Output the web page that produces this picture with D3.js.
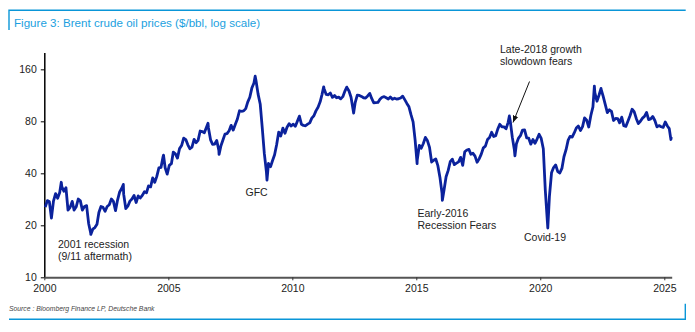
<!DOCTYPE html>
<html>
<head>
<meta charset="utf-8">
<script src="https://cdn.jsdelivr.net/npm/d3@7"></script>
<style>
  body { margin: 0; background: #fff; }
  svg { display: block; font-family: "Liberation Sans", Arial, sans-serif; }
</style>
</head>
<body>
<script>
// Brent, $/bbl, one value per month from Jan 2000
var startYear = 2000;
var brentMonthly = [
  25.5, 27.8, 27.5, 22.0, 27.6, 30.5, 28.7, 31.0, 33.5, 31.5, 33.0, 24.5,
  25.4, 27.5, 24.5, 25.6, 28.4, 27.7, 24.5, 25.7, 26.0, 20.5, 18.0, 19.0,
  19.4, 20.3, 23.7, 25.7, 25.4, 24.1, 25.7, 26.3, 28.4, 27.5, 24.3, 28.0,
  31.2, 32.8, 30.3, 25.0, 25.8, 27.6, 28.4, 29.8, 27.1, 29.6, 28.8, 29.8,
  31.3, 30.9, 33.8, 33.4, 37.6, 35.5, 38.4, 43.0, 43.3, 49.8, 43.1, 39.6,
  44.5, 45.5, 53.1, 51.9, 49.0, 55.6, 57.9, 64.0, 62.7, 58.5, 55.5, 56.7,
  62.9, 60.2, 62.1, 70.3, 69.8, 68.7, 73.7, 73.2, 62.5, 58.9, 59.1, 62.0,
  54.3, 57.8, 62.1, 67.5, 67.9, 70.6, 75.8, 71.2, 77.0, 82.5, 92.1, 91.5,
  92.0, 94.8, 103.3, 110.2, 124.6, 133.5, 138.0, 115.0, 100.8, 73.6, 52.0, 41.0,
  45.6, 43.7, 47.3, 51.2, 58.6, 69.3, 65.8, 73.1, 68.2, 73.9, 77.5, 75.2,
  77.0, 74.8, 79.9, 85.7, 77.0, 75.7, 75.4, 77.1, 78.4, 83.5, 86.1, 92.0,
  96.5, 103.7, 114.6, 123.3, 114.5, 113.9, 116.7, 110.2, 112.8, 109.5, 110.5, 107.9,
  111.2, 119.7, 125.5, 119.8, 110.3, 93.0, 102.6, 113.4, 113.0, 111.5, 109.5, 109.2,
  112.3, 116.1, 108.5, 102.3, 102.6, 102.9, 107.4, 110.3, 111.2, 109.5, 107.8, 110.6,
  107.4, 108.8, 107.7, 108.1, 109.2, 111.9, 106.8, 101.6, 97.1, 87.4, 79.4, 62.3,
  47.8, 58.1, 55.9, 59.5, 64.6, 61.7, 56.5, 46.5, 47.6, 48.4, 44.3, 38.0,
  30.7, 32.2, 38.2, 41.6, 46.7, 48.3, 44.9, 45.8, 46.6, 49.5, 44.5, 53.3,
  54.6, 55.0, 51.6, 52.3, 50.3, 46.4, 48.5, 51.7, 56.2, 57.5, 62.7, 64.4,
  69.1, 65.3, 66.0, 72.1, 76.9, 74.4, 74.3, 72.5, 78.9, 81.0, 64.8, 55.0,
  59.4, 64.0, 66.1, 71.2, 71.3, 64.2, 63.9, 59.0, 62.8, 59.7, 63.2, 67.3,
  63.7, 55.5, 32.0, 21.0, 29.4, 40.3, 43.2, 44.7, 40.9, 40.2, 42.7, 49.9,
  54.8, 62.3, 65.4, 64.8, 68.5, 73.2, 75.2, 70.8, 74.5, 83.7, 81.1, 74.2,
  86.5, 97.1, 117.3, 104.6, 113.3, 122.7, 111.9, 100.4, 89.8, 93.3, 91.4, 80.9,
  83.1, 82.9, 78.4, 84.6, 75.5, 74.8, 80.1, 86.2, 94.0, 91.1, 83.2, 77.6,
  80.1, 83.5, 85.4, 90.1, 81.8, 82.6, 85.3, 80.9, 74.3, 75.6, 74.4, 73.8,
  79.3, 75.2, 72.6, 65.0
];

// daily highs and lows that the monthly series smooths away
var spikeDates = ["2000-09-07", "2001-11-16", "2003-03-10", "2004-10-22", "2006-08-08",
  "2007-01-18", "2008-07-03", "2008-12-24", "2011-04-08", "2012-03-13", "2012-06-22",
  "2015-01-13", "2016-01-20", "2018-10-03", "2018-12-24", "2020-04-21", "2022-03-08",
  "2022-06-14", "2025-04-08"];
var spikeValues = [35.5, 17.7, 34.5, 51.0, 78.0,
  51.5, 146.0, 36.5, 126.6, 126.2, 89.2,
  45.5, 27.9, 86.0, 50.5, 19.3, 128.0,
  124.0, 62.8];

var yTicks = [10, 20, 40, 80, 160];
var xTickYears = [2000, 2005, 2010, 2015, 2020, 2025];

var title = "Figure 3: Brent crude oil prices ($/bbl, log scale)";
var source = "Source : Bloomberg Finance LP, Deutsche Bank";

var notes = [
  { lines: ["2001 recession", "(9/11 aftermath)"], x: 58, y: 248 },
  { lines: ["GFC"], x: 245.5, y: 196 },
  { lines: ["Early-2016", "Recession Fears"], x: 417.5, y: 216.5 },
  { lines: ["Covid-19"], x: 524, y: 240.5 },
  { lines: ["Late-2018 growth", "slowdown fears"], x: 500, y: 53 }
];

var parseDay = d3.timeParse("%Y-%m-%d");
var series = brentMonthly.map(function(v, i) {
  return { date: new Date(startYear + Math.floor(i / 12), i % 12, 15), value: v };
});
spikeDates.forEach(function(s, i) {
  series.push({ date: parseDay(s), value: spikeValues[i] });
});
series.sort(function(a, b) { return a.date - b.date; });

var svg = d3.select("body").append("svg")
  .attr("width", 695)
  .attr("height", 332);

var x = d3.scaleTime()
  .domain([new Date(2000, 0, 1), new Date(2025, 3, 20)])
  .range([44.3, 671.7]);

var y = d3.scaleLog()
  .domain([10, 200])
  .range([277.3, 52.6]);

// frame: top rule with a short left leg, bottom rule with a short right leg
var blue = "#0a96d8";
svg.append("path")
  .attr("d", "M9,30V10.3H685.7")
  .attr("fill", "none").attr("stroke", blue).attr("stroke-width", 1.4);
svg.append("path")
  .attr("d", "M9,319.3H685.3V303.7")
  .attr("fill", "none").attr("stroke", blue).attr("stroke-width", 1.4);

svg.append("text")
  .attr("x", 14).attr("y", 27)
  .attr("fill", "#1b9fe0")
  .style("font-size", "11.6px")
  .text(title);

svg.append("text")
  .attr("x", 9).attr("y", 311)
  .attr("fill", "#444")
  .style("font-size", "6.8px")
  .style("font-style", "italic")
  .text(source);

// axes
var gy = svg.append("g")
  .attr("transform", "translate(44.3,0)")
  .call(d3.axisLeft(y)
    .tickValues(yTicks)
    .tickFormat(d3.format("d"))
    .tickSize(3.5)
    .tickSizeOuter(0)
    .tickPadding(4));
gy.select(".domain").attr("stroke", "#000").attr("stroke-width", 1.5);
gy.selectAll(".tick line").attr("stroke", "#000");
gy.selectAll(".tick text")
  .attr("fill", "#222")
  .style("font-family", "'Liberation Sans', Arial, sans-serif")
  .style("font-size", "10.5px");

var gx = svg.append("g")
  .attr("transform", "translate(0,277.3)")
  .call(d3.axisBottom(x)
    .tickValues(xTickYears.map(function(yr) { return new Date(yr, 0, 1); }))
    .tickFormat(d3.timeFormat("%Y"))
    .tickSize(3)
    .tickSizeOuter(0)
    .tickPadding(4));
gx.select(".domain").attr("stroke", "#555").attr("stroke-width", 2);
gx.selectAll(".tick line").attr("stroke", "#333");
gx.selectAll(".tick text")
  .attr("fill", "#222")
  .style("font-family", "'Liberation Sans', Arial, sans-serif")
  .style("font-size", "10.5px");

// price line
var line = d3.line()
  .x(function(d) { return x(d.date); })
  .y(function(d) { return y(d.value); });

svg.append("path")
  .datum(series)
  .attr("fill", "none")
  .attr("stroke", "#0b229c")
  .attr("stroke-width", 2.8)
  .attr("stroke-linejoin", "round")
  .attr("d", line);

// annotations
notes.forEach(function(n) {
  var t = svg.append("text")
    .attr("fill", "#222")
    .style("font-size", "10.5px");
  n.lines.forEach(function(s, i) {
    t.append("tspan")
      .attr("x", n.x)
      .attr("y", n.y + i * 12)
      .text(s);
  });
});

svg.append("defs").append("marker")
  .attr("id", "head")
  .attr("viewBox", "0 0 10 10")
  .attr("refX", 10).attr("refY", 5)
  .attr("markerWidth", 7).attr("markerHeight", 7)
  .attr("orient", "auto")
  .append("path")
  .attr("d", "M0,1L10,5L0,9Z")
  .attr("fill", "#111");

svg.append("line")
  .attr("x1", 529.5).attr("y1", 81.5)
  .attr("x2", 513).attr("y2", 122.5)
  .attr("stroke", "#111")
  .attr("stroke-width", 1)
  .attr("marker-end", "url(#head)");
</script>
</body>
</html>
